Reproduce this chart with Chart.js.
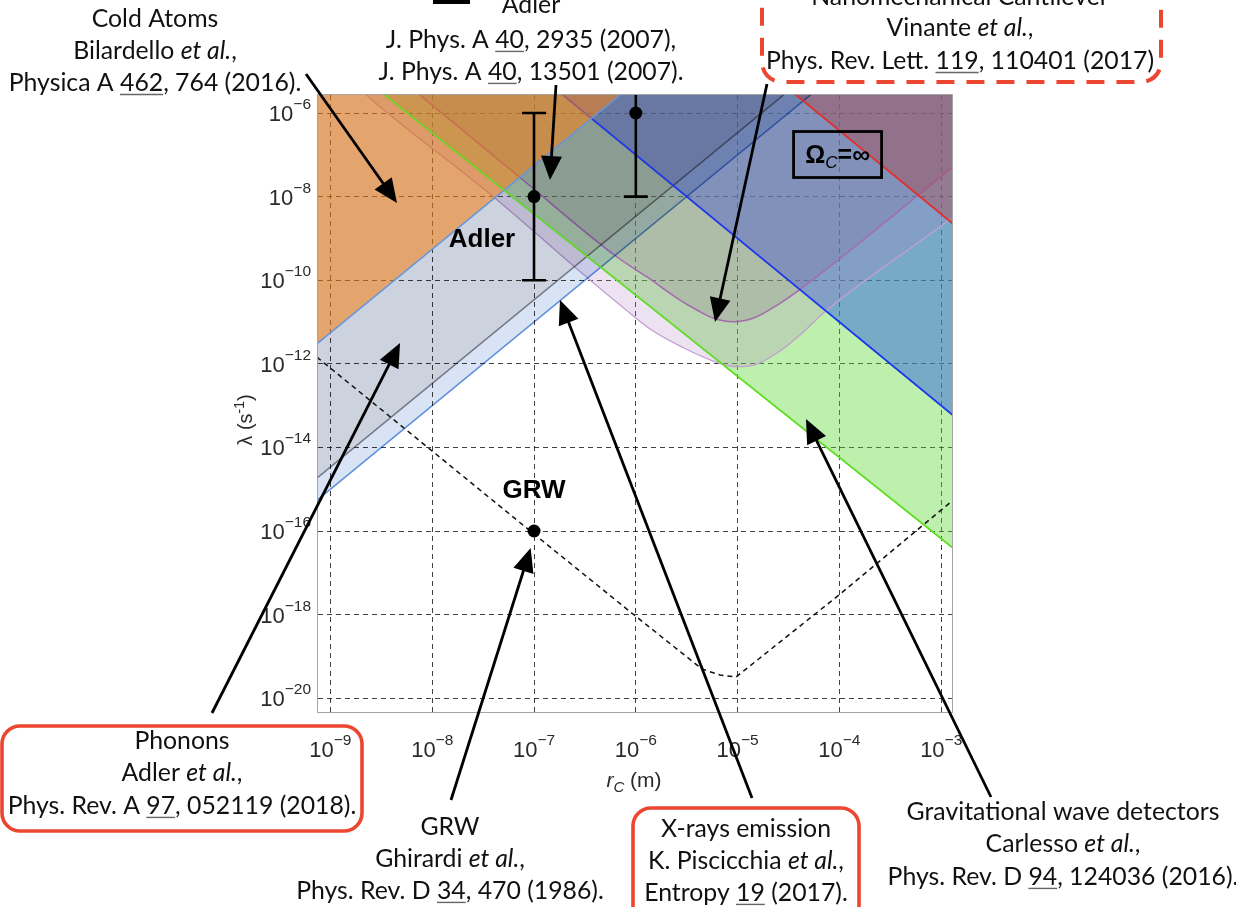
<!DOCTYPE html>
<html>
<head>
<meta charset="utf-8">
<title>CSL parameter space bounds</title>
<script src="https://cdn.jsdelivr.net/npm/chart.js@4.4.1/dist/chart.umd.min.js"></script>
<style>
  html, body { margin: 0; padding: 0; background: #ffffff; overflow: hidden; }
  canvas { display: block; }
</style>
</head>
<body>
<canvas id="chart" width="1236" height="907"></canvas>
<script>
// ---- axis decades: log10 of rC (m) and log10 of λ (1/s) ----
const xDecades = [-9, -8, -7, -6, -5, -4, -3];
const yDecades = [-6, -8, -10, -12, -14, -16, -18, -20];
const xLimits = [-9.122, -2.894];
const yLimits = [-20.33, -5.569];

// ---- bound edges, each point is [log10 rC, log10 λ] ----
const xRaysEdge     = [[-9.3, -15.60], [-4.0, -5.00]];
const phononsEdge   = [[-9.3, -15.07], [-4.0, -4.47]];
const coldAtomsEdge = [[-9.3, -11.86], [-6.0, -5.26]];
const gwEdge        = [[-8.6, -5.31], [-2.8, -16.57]];
const blueBoundEdge = [[-6.9, -5.20], [-2.8, -13.40]];
const redBoundEdge  = [[-4.6, -5.22], [-2.8, -8.82]];
const cantileverUpper = [
  [-8.20, -5.41], [-7.108, -7.603], [-6.185, -9.445], [-5.890, -9.923], [-5.566, -10.474],
  [-5.399, -10.713], [-5.242, -10.904], [-5.045, -10.993], [-4.849, -10.911], [-4.584, -10.553],
  [-4.417, -10.275], [-2.894, -7.301], [-2.80, -7.11]
];
const cantileverLower = [
  [-8.70, -5.45], [-8.513, -5.849], [-7.400, -8.002], [-6.450, -9.995], [-6.155, -10.593],
  [-5.861, -11.167], [-5.536, -11.610], [-5.239, -11.933], [-5.009, -12.069], [-4.809, -12.005],
  [-4.584, -11.694], [-4.387, -11.311], [-4.122, -10.713], [-2.894, -8.505], [-2.80, -8.32]
];
const grwCurve = [
  [-9.20, -11.70], [-9.122, -11.861], [-7.000, -16.072], [-6.028, -17.986], [-5.350, -19.301],
  [-5.173, -19.445], [-5.016, -19.493], [-4.004, -17.531], [-2.894, -15.282], [-2.80, -15.09]
];

// ---- Adler values with error bars, and the GRW point ----
const adlerR    = [-7, -6];
const adlerMid  = [-8, -6];
const adlerLow  = [-10, -8];
const adlerHigh = [-6, -4];
const grwPoint  = [-7, -16];

const pts = arr => arr.map(([a, b]) => ({ x: 10 ** a, y: 10 ** b }));

// larger "order" is painted first; "blend" picks the canvas compositing for that layer
const datasets = [
  { data: pts(gwEdge), borderColor: 'rgb(100,222,40)', borderWidth: 1.5,
    backgroundColor: 'rgba(90,215,50,0.4)', fill: 'end', order: 100 },
  { data: pts(blueBoundEdge), borderColor: 'rgb(30,60,235)', borderWidth: 1.6,
    backgroundColor: 'rgba(51,101,227,0.5)', fill: 'end', order: 90 },
  { data: pts(cantileverLower), borderColor: 'rgb(195,160,210)', borderWidth: 1.3,
    backgroundColor: 'rgba(175,125,190,0.22)', fill: 'end', order: 80, cubicInterpolationMode: 'monotone' },
  { data: pts(cantileverUpper), borderColor: 'rgb(165,105,175)', borderWidth: 1.5,
    backgroundColor: 'rgba(130,85,130,0.18)', fill: 'end', order: 70, cubicInterpolationMode: 'monotone' },
  { data: pts(redBoundEdge), borderColor: 'rgb(225,50,50)', borderWidth: 1.6,
    backgroundColor: 'rgba(176,57,52,0.35)', fill: 'end', order: 60 },
  { data: pts(xRaysEdge), borderColor: 'rgb(100,150,225)', borderWidth: 1.5,
    backgroundColor: 'rgb(216,228,245)', fill: 'end', order: 50, blend: 'multiply' },
  { data: pts(phononsEdge), borderColor: 'rgb(140,140,145)', borderWidth: 1.5,
    backgroundColor: 'rgb(242,235,232)', fill: 'end', order: 40, blend: 'multiply' },
  { data: pts(blueBoundEdge), borderColor: 'rgb(30,60,235)', borderWidth: 1.6, fill: false, order: 35 },
  { data: pts(redBoundEdge), borderColor: 'rgb(225,50,50)', borderWidth: 1.6, fill: false, order: 34 },
  { data: pts(coldAtomsEdge), borderColor: 'rgb(100,150,220)', borderWidth: 1.5,
    backgroundColor: 'rgba(246,130,23,0.565)', fill: 'end', order: 30 },
  { data: pts(gwEdge), borderColor: 'rgb(100,222,40)', borderWidth: 1.5, fill: false, order: 22 },
  { data: pts(grwCurve), borderColor: '#111', borderWidth: 1.5, borderDash: [5, 4],
    fill: false, order: 10 },
  { data: pts([...adlerR.map((r, i) => [r, adlerMid[i]]), grwPoint]), showLine: false,
    pointRadius: 6.5, pointBackgroundColor: '#000', pointBorderWidth: 0, order: 0 }
];

// ---- text that sits around the plot ----
const notes = [
  { x: 155, y: [18, 50, 82], lines: [
    [['Cold Atoms']],
    [['Bilardello '], ['et al.', 'i'], [',']],
    [['Physica A '], ['462', 'u'], [', 764 (2016).']] ] },
  { x: 531, y: [4, 39, 71], lines: [
    [['Adler']],
    [['J. Phys. A '], ['40', 'u'], [', 2935 (2007),']],
    [['J. Phys. A '], ['40', 'u'], [', 13501 (2007).']] ] },
  { x: 960, y: [-4, 27, 60], lines: [
    [['Nanomechanical Cantilever']],
    [['Vinante '], ['et al.', 'i'], [',']],
    [['Phys. Rev. Lett. '], ['119', 'u'], [', 110401 (2017)']] ] },
  { x: 182, y: [740, 772, 805], lines: [
    [['Phonons']],
    [['Adler '], ['et al.', 'i'], [',']],
    [['Phys. Rev. A '], ['97', 'u'], [', 052119 (2018).']] ] },
  { x: 450, y: [826, 858, 890], lines: [
    [['GRW']],
    [['Ghirardi '], ['et al.', 'i'], [',']],
    [['Phys. Rev. D '], ['34', 'u'], [', 470 (1986).']] ] },
  { x: 746, y: [828, 860, 892], lines: [
    [['X-rays emission']],
    [['K. Piscicchia '], ['et al.', 'i'], [',']],
    [['Entropy '], ['19', 'u'], [' (2017).']] ] },
  { x: 1063, y: [811, 843, 876], lines: [
    [['Gravitational wave detectors']],
    [['Carlesso '], ['et al.', 'i'], [',']],
    [['Phys. Rev. D '], ['94', 'u'], [', 124036 (2016).']] ] }
];

// arrows: tail in page pixels, head at [log10 rC, log10 λ]
const arrows = [
  { from: [306, 74], to: [-8.346, -8.153] },
  { from: [556, 85], to: [-6.843, -7.603] },
  { from: [767, 84], to: [-5.222, -11.0] },
  { from: [212, 713], to: [-8.316, -11.502] },
  { from: [451, 800], to: [-7.033, -16.407] },
  { from: [752, 798], to: [-6.745, -10.474] },
  { from: [991, 797], to: [-4.328, -13.321] }
];

const NOTE_FONT = 'Lato, "Open Sans", sans-serif';
const AXIS_FONT = '"Liberation Sans", Arial, sans-serif';

function drawRich(ctx, parts, cx, cy, size, family) {
  const fonts = parts.map(p => (p[1] === 'i' ? 'italic ' : '') + size + 'px ' + family);
  let w = 0;
  parts.forEach((p, k) => { ctx.font = fonts[k]; w += ctx.measureText(p[0]).width; });
  let x = cx - w / 2;
  const base = cy + size * 0.36;
  parts.forEach((p, k) => {
    ctx.font = fonts[k];
    ctx.fillText(p[0], x, base);
    const tw = ctx.measureText(p[0]).width;
    if (p[1] === 'u') {
      ctx.save();
      ctx.strokeStyle = '#666';
      ctx.lineWidth = 1.4;
      ctx.beginPath();
      ctx.moveTo(x, base + 3.5);
      ctx.lineTo(x + tw, base + 3.5);
      ctx.stroke();
      ctx.restore();
    }
    x += tw;
  });
}

function roundRectPath(ctx, x, y, w, h, r) {
  ctx.beginPath();
  ctx.moveTo(x + r, y);
  ctx.arcTo(x + w, y, x + w, y + h, r);
  ctx.arcTo(x + w, y + h, x, y + h, r);
  ctx.arcTo(x, y + h, x, y, r);
  ctx.arcTo(x, y, x + w, y, r);
  ctx.closePath();
}

function drawArrow(ctx, x0, y0, x1, y1) {
  const a = Math.atan2(y1 - y0, x1 - x0);
  const L = 24, H = 10.5;
  const bx = x1 - L * Math.cos(a), by = y1 - L * Math.sin(a);
  ctx.beginPath();
  ctx.moveTo(x0, y0);
  ctx.lineTo(bx + 2 * Math.cos(a), by + 2 * Math.sin(a));
  ctx.stroke();
  ctx.beginPath();
  ctx.moveTo(x1, y1);
  ctx.lineTo(bx - H * Math.sin(a), by + H * Math.cos(a));
  ctx.lineTo(bx + H * Math.sin(a), by - H * Math.cos(a));
  ctx.closePath();
  ctx.fill();
}

const blendOf = (c, meta) => (meta && c.data.datasets[meta.index].blend) || 'source-over';

const decor = {
  id: 'decor',
  beforeDraw(c) {
    const ctx = c.ctx;
    ctx.save();
    ctx.fillStyle = '#ffffff';
    ctx.fillRect(0, 0, c.width, c.height);
    ctx.restore();
  },
  beforeDatasetsDraw(c) {
    const metas = c.getSortedVisibleDatasetMetas();
    c.ctx.globalCompositeOperation = blendOf(c, metas[metas.length - 1]);
  },
  afterDatasetDraw(c, args) {
    // set the compositing for the layer that is painted next
    const metas = c.getSortedVisibleDatasetMetas();
    const pos = metas.indexOf(args.meta);
    c.ctx.globalCompositeOperation = pos > 0 ? blendOf(c, metas[pos - 1]) : 'source-over';
  },
  afterDatasetsDraw(c) {
    const ctx = c.ctx, xs = c.scales.x, ys = c.scales.y, A = c.chartArea;
    ctx.globalCompositeOperation = 'source-over';
    ctx.save();
    ctx.beginPath();
    ctx.rect(A.left, A.top, A.right - A.left, A.bottom - A.top);
    ctx.clip();
    ctx.strokeStyle = '#000';
    ctx.lineWidth = 2.6;
    adlerR.forEach((r, i) => {
      const px = xs.getPixelForValue(10 ** r);
      const lo = ys.getPixelForValue(10 ** adlerLow[i]);
      const hi = ys.getPixelForValue(10 ** adlerHigh[i]);
      ctx.beginPath();
      ctx.moveTo(px, lo); ctx.lineTo(px, hi);
      ctx.moveTo(px - 12, lo); ctx.lineTo(px + 12, lo);
      ctx.moveTo(px - 12, hi); ctx.lineTo(px + 12, hi);
      ctx.stroke();
    });
    ctx.restore();
  },
  afterDraw(c) {
    const ctx = c.ctx, xs = c.scales.x, ys = c.scales.y, A = c.chartArea;
    const X = v => xs.getPixelForValue(10 ** v);
    const Y = v => ys.getPixelForValue(10 ** v);
    ctx.save();

    // plot frame
    ctx.strokeStyle = 'rgb(165,165,165)';
    ctx.lineWidth = 1;
    ctx.strokeRect(A.left - 0.5, A.top - 0.5, A.right - A.left + 1, A.bottom - A.top + 1);

    // tick labels 10^n
    ctx.fillStyle = '#2a2a2a';
    ctx.textAlign = 'left';
    ctx.textBaseline = 'alphabetic';
    const baseF = '22px ' + AXIS_FONT, expF = '15.5px ' + AXIS_FONT;
    xDecades.forEach(e => {
      const px = X(e);
      const ex = '\u2212' + Math.abs(e);
      ctx.font = baseF; const w1 = ctx.measureText('10').width;
      ctx.font = expF; const w2 = ctx.measureText(ex).width;
      const x0 = px - (w1 + w2) / 2;
      ctx.font = baseF; ctx.fillText('10', x0, 757);
      ctx.font = expF; ctx.fillText(ex, x0 + w1, 745);
    });
    yDecades.forEach(e => {
      const py = Y(e);
      const ex = '\u2212' + Math.abs(e);
      ctx.font = baseF; const w1 = ctx.measureText('10').width;
      ctx.font = expF; const w2 = ctx.measureText(ex).width;
      const x0 = 311 - w1 - w2;
      ctx.font = baseF; ctx.fillText('10', x0, py + 8);
      ctx.font = expF; ctx.fillText(ex, x0 + w1, py - 4);
    });

    // axis titles
    ctx.fillStyle = '#2a2a2a';
    {
      const f1 = 'italic 21px ' + AXIS_FONT, f2 = 'italic 15px ' + AXIS_FONT, f3 = '21px ' + AXIS_FONT;
      ctx.font = f1; const a = ctx.measureText('r').width;
      ctx.font = f2; const b = ctx.measureText('C').width;
      ctx.font = f3; const d = ctx.measureText(' (m)').width;
      const x0 = 634 - (a + b + d) / 2;
      ctx.font = f1; ctx.fillText('r', x0, 787);
      ctx.font = f2; ctx.fillText('C', x0 + a, 792);
      ctx.font = f3; ctx.fillText(' (m)', x0 + a + b, 787);
    }
    {
      ctx.save();
      ctx.translate(252, 420);
      ctx.rotate(-Math.PI / 2);
      const f1 = '20px ' + AXIS_FONT, f2 = '14px ' + AXIS_FONT;
      ctx.font = f1; const a = ctx.measureText('\u03bb (s').width;
      ctx.font = f2; const b = ctx.measureText('-1').width;
      ctx.font = f1; const d = ctx.measureText(')').width;
      const x0 = -(a + b + d) / 2;
      ctx.font = f1; ctx.fillText('\u03bb (s', x0, 0);
      ctx.font = f2; ctx.fillText('-1', x0 + a, -8);
      ctx.font = f1; ctx.fillText(')', x0 + a + b, 0);
      ctx.restore();
    }

    // labels inside the plot
    ctx.fillStyle = '#000';
    ctx.textAlign = 'center';
    ctx.font = 'bold 26px ' + AXIS_FONT;
    ctx.fillText('Adler', X(-7.511), Y(-8.99) + 9);
    ctx.fillText('GRW', X(-7.0), Y(-14.995) + 9);

    // Omega_C = infinity box
    {
      const cx = X(-4.018), cy = Y(-6.993);
      ctx.lineWidth = 2.8;
      ctx.strokeStyle = '#000';
      ctx.strokeRect(cx - 44, cy - 23, 88, 46);
      const f1 = 'bold 25px ' + AXIS_FONT, f2 = 'italic 17px ' + AXIS_FONT;
      ctx.textAlign = 'left';
      ctx.font = f1; const a = ctx.measureText('\u03a9').width;
      ctx.font = f2; const b = ctx.measureText('C').width;
      ctx.font = f1; const d = ctx.measureText('=\u221e').width;
      const x0 = cx - (a + b + d) / 2;
      ctx.font = f1; ctx.fillText('\u03a9', x0, cy + 8);
      ctx.font = f2; ctx.fillText('C', x0 + a, cy + 13);
      ctx.font = f1; ctx.fillText('=\u221e', x0 + a + b, cy + 8);
    }

    // reference notes around the plot
    ctx.textAlign = 'left';
    ctx.fillStyle = '#111';
    ctx.font = '100px ' + NOTE_FONT;
    const probe = ctx.measureText('Phys. Rev. A 97, 052119 (2018).').width;
    const noteSize = Math.round(100 * 349 / probe * 10) / 10;
    notes.forEach(n => n.lines.forEach((ln, k) => drawRich(ctx, ln, n.x, n.y[k], noteSize, NOTE_FONT)));

    // small bar above the Adler note
    ctx.fillStyle = '#000';
    ctx.fillRect(433, 0, 37, 4);

    // frames around some notes
    ctx.strokeStyle = 'rgb(236,70,48)';
    ctx.lineWidth = 3.6;
    roundRectPath(ctx, 2, 726, 360, 105, 18); ctx.stroke();
    roundRectPath(ctx, 633, 808, 226, 140, 18); ctx.stroke();
    ctx.lineWidth = 4;
    ctx.setLineDash([18, 12]);
    roundRectPath(ctx, 762, -40, 399, 122, 20); ctx.stroke();
    ctx.setLineDash([]);

    // arrows
    ctx.strokeStyle = '#000';
    ctx.fillStyle = '#000';
    ctx.lineWidth = 2.8;
    arrows.forEach(a => drawArrow(ctx, a.from[0], a.from[1], X(a.to[0]), Y(a.to[1])));

    ctx.restore();
  }
};

const gridOpts = { color: 'rgba(0,0,0,0.75)', lineWidth: 1, drawTicks: false, tickLength: 0 };

const chart = new Chart(document.getElementById('chart'), {
  type: 'line',
  data: { datasets },
  options: {
    responsive: false,
    animation: false,
    devicePixelRatio: 1,
    layout: { padding: { left: 318, top: 95, right: 284, bottom: 195 } },
    plugins: { legend: { display: false }, tooltip: { enabled: false } },
    elements: { point: { radius: 0 }, line: { tension: 0 } },
    scales: {
      x: {
        type: 'logarithmic', min: 10 ** xLimits[0], max: 10 ** xLimits[1], z: 1,
        afterBuildTicks: s => { s.ticks = xDecades.map(e => ({ value: 10 ** e })); },
        afterFit: s => { s.height = 0; },
        ticks: { display: false },
        grid: gridOpts,
        border: { display: false, dash: [5, 4] }
      },
      y: {
        type: 'logarithmic', min: 10 ** yLimits[0], max: 10 ** yLimits[1], z: 1,
        afterBuildTicks: s => { s.ticks = yDecades.map(e => ({ value: 10 ** e })); },
        afterFit: s => { s.width = 0; },
        ticks: { display: false },
        grid: gridOpts,
        border: { display: false, dash: [5, 4] }
      }
    }
  },
  plugins: [decor]
});
</script>
</body>
</html>
